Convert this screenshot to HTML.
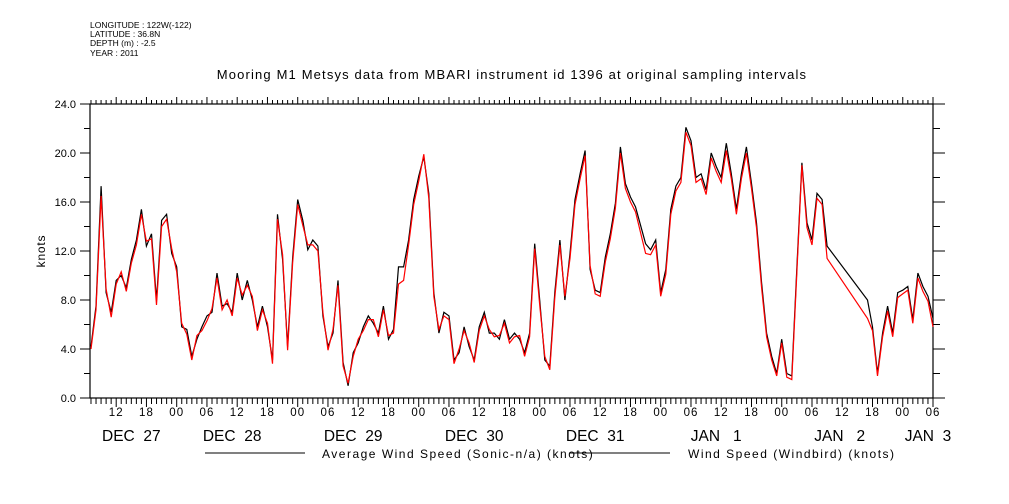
<!DOCTYPE html>
<html><head><meta charset="utf-8"><style>
html,body{margin:0;padding:0;background:#fff;}
svg{display:block;font-family:"Liberation Sans",sans-serif;}
</style></head><body>
<svg id="chart" width="1009" height="504" viewBox="0 0 1009 504">
<g font-size="8.5" fill="#000">
<text x="90" y="28">LONGITUDE : 122W(-122)</text>
<text x="90" y="37">LATITUDE : 36.8N</text>
<text x="90" y="46">DEPTH (m) : -2.5</text>
<text x="90" y="56">YEAR : 2011</text>
</g>
<text x="512" y="79" text-anchor="middle" font-size="13" letter-spacing="1.15">Mooring M1 Metsys data from MBARI instrument id 1396 at original sampling intervals</text>
<text transform="translate(45,251) rotate(-90)" text-anchor="middle" font-size="12" letter-spacing="0.8">knots</text>
<g id="axes"></g>
<g id="series"></g>
<g font-size="12" letter-spacing="1.5">
<line x1="205" y1="453" x2="305" y2="453" stroke="#000"/>
<text x="322" y="458">Average Wind Speed (Sonic-n/a) (knots)</text>
<line x1="570" y1="453" x2="670" y2="453" stroke="#000"/>
<text x="688" y="458">Wind Speed (Windbird) (knots)</text>
</g>
</svg>
<script>
// hours relative to Dec 27 00:00, starting at -17
const startHour = -17;
const blackValues = [4.2,7.5,17.3,8.6,7,9.6,10,9,11.3,12.9,15.4,12.4,13.4,8,14.5,15,11.8,
10.7,5.8,5.6,3.4,4.8,5.8,6.7,7,10.2,7.5,7.7,7,10.2,8,9.6,8,5.8,7.5,5.8,3.1,15,11.3,4.2,11.5,
16.2,14.5,12.1,12.9,12.4,6.7,4.2,5.3,9.6,2.9,1,3.7,4.5,5.8,6.7,6.1,5.3,7.5,4.8,5.6,10.7,10.7,12.9,16.2,
18.1,19.7,16.7,8.6,5.3,7,6.7,3.1,3.7,5.8,4.2,3.1,5.8,7,5.3,5.3,4.8,6.4,4.8,5.3,4.8,3.7,5.3,12.6,
8,3.1,2.6,8.6,12.9,8,11.8,16.2,18.3,20.2,10.5,8.8,8.6,11.5,13.4,15.9,20.5,17.5,16.4,15.6,null,12.6,12.1,12.9,
8.6,10.5,15.4,17.3,18,22.1,21,18,18.3,17,20,18.9,18,20.8,18.3,15.4,18.3,20.5,17.5,14.3,9.4,5.3,3.4,2,
4.8,2,1.8,10.7,19.2,14.3,12.9,16.7,16.2,12.4,null,null,null,null,null,null,null,8,5.8,2,5.3,7.5,5.3,8.6,
8.8,9.1,6.4,10.2,9.1,8.3,6.5];
const redValues = [4,7.2,16.5,8.9,6.6,9.3,10.3,8.7,11,12.5,15,12.8,13,7.6,14,14.6,12.2,
10.3,6.1,5.2,3.1,5.1,5.5,6.3,7.3,9.8,7.2,8,6.7,9.8,8.4,9.2,8.3,5.5,7.2,6.1,2.8,14.6,11.7,3.9,11.1,
15.8,14.1,12.5,12.5,12,7,3.9,5.6,9.2,2.6,1.2,3.4,4.8,5.5,6.4,6.4,5,7.2,5.1,5.3,9.3,9.6,12.5,15.8,
17.7,19.9,16.3,8.3,5.6,6.7,6.4,2.8,4,5.5,4.5,2.9,5.5,6.7,5.6,5,5.1,6.1,4.5,5,5.1,3.4,5,12.2,
7.6,3.4,2.3,8.2,12.5,8.3,11.4,15.8,17.9,19.8,10.8,8.5,8.3,11.1,13,15.5,20,17.1,16,15.2,null,11.8,11.7,12.5,
8.3,10.1,15,16.9,17.6,21.7,20.6,17.6,17.9,16.6,19.6,18.5,17.6,20.2,17.9,15,17.9,20,17.1,13.9,9,5,3.1,1.8,
4.5,1.7,1.5,10.3,19,13.9,12.5,16.3,15.8,11.4,null,null,null,null,null,null,null,6.5,5.5,1.8,5,7.1,5,8.2,
8.5,8.8,6.1,9.8,8.7,7.9,5.8];
const yTickValues = [0,4,8,12,16,20,24];
const yTickLabels = ["0.0","4.0","8.0","12.0","16.0","20.0","24.0"];
const hourLabelTicks = [-12,-6,0,6,12,18,24,30,36,42,48,54,60,66,72,78,84,90,96,102,108,114,120,126,132,138,144,150];
const dateLabels = ["DEC 27","DEC 28","DEC 29","DEC 30","DEC 31","JAN  1","JAN  2","JAN 3"];
const dateLabelHours = [-9,11,35,59,83,107,131.5,149];

const X0=90,X1=933,Y0=398,Y1=104,VMAX=24;
const xs=h=>176.7+h*(X1-176.7)/150;
const ys=v=>Y0-v*(Y0-Y1)/VMAX;
const NS="http://www.w3.org/2000/svg";
const axes=document.getElementById('axes');
const series=document.getElementById('series');
function mk(tag,attrs,parent){const e=document.createElementNS(NS,tag);for(const k in attrs)e.setAttribute(k,attrs[k]);parent.appendChild(e);return e;}

let el=mk('rect',{x:X0,y:Y1,width:X1-X0,height:Y0-Y1,fill:'none',stroke:'#000','stroke-width':1.2},axes);



for(let v=0;v<=24;v+=2){
  const major=v%4===0;
  let t=mk('line',{x1:X0-(major?10:6),x2:X0,y1:ys(v),y2:ys(v),stroke:'#000'},axes);
  
  
  let t2=mk('line',{x1:X1,x2:X1+(major?12:7),y1:ys(v),y2:ys(v),stroke:'#000'},axes);
  
  
}
yTickValues.forEach((v,i)=>{
  const t=mk('text',{x:76,y:ys(v)+4,'text-anchor':'end','font-size':11},axes);
  t.textContent=yTickLabels[i];
  
  
});
for(let h=-17;h<=150;h++){
  const major=((h%6)+6)%6===0;
  const x=xs(h);
  let t=mk('line',{x1:x,x2:x,y1:Y0,y2:Y0+(major?9:6),stroke:'#000'},axes);
  
  
  let t2=mk('line',{x1:x,x2:x,y1:Y1,y2:Y1-(major?7:4),stroke:'#000'},axes);
  
  
}
hourLabelTicks.forEach(h=>{
  const t=mk('text',{x:xs(h),y:416,'text-anchor':'middle','font-size':11.5,'letter-spacing':1},axes);
  t.textContent=String(((h%24)+24)%24).padStart(2,'0');
  
  
});
dateLabels.forEach((d,i)=>{
  const t=mk('text',{x:xs(dateLabelHours[i]),y:441,'text-anchor':'middle','font-size':15.5},axes);
  t.setAttribute('style','white-space:pre');
  t.textContent=d.replace(' ','  ');
  
  
});
function path(vals,color,name){
  let d='';
  vals.forEach((v,i)=>{ if(v===null) return; d+=(d?'L':'M')+xs(startHour+i).toFixed(1)+' '+ys(v).toFixed(1);});
  const p=mk('path',{d:d,fill:'none',stroke:color,'stroke-width':1.2},series);
  
  
}
path(blackValues,'#000','line-average-wind-speed');
path(redValues,'#ff0000','line-windbird-wind-speed');
</script>
</body></html>
